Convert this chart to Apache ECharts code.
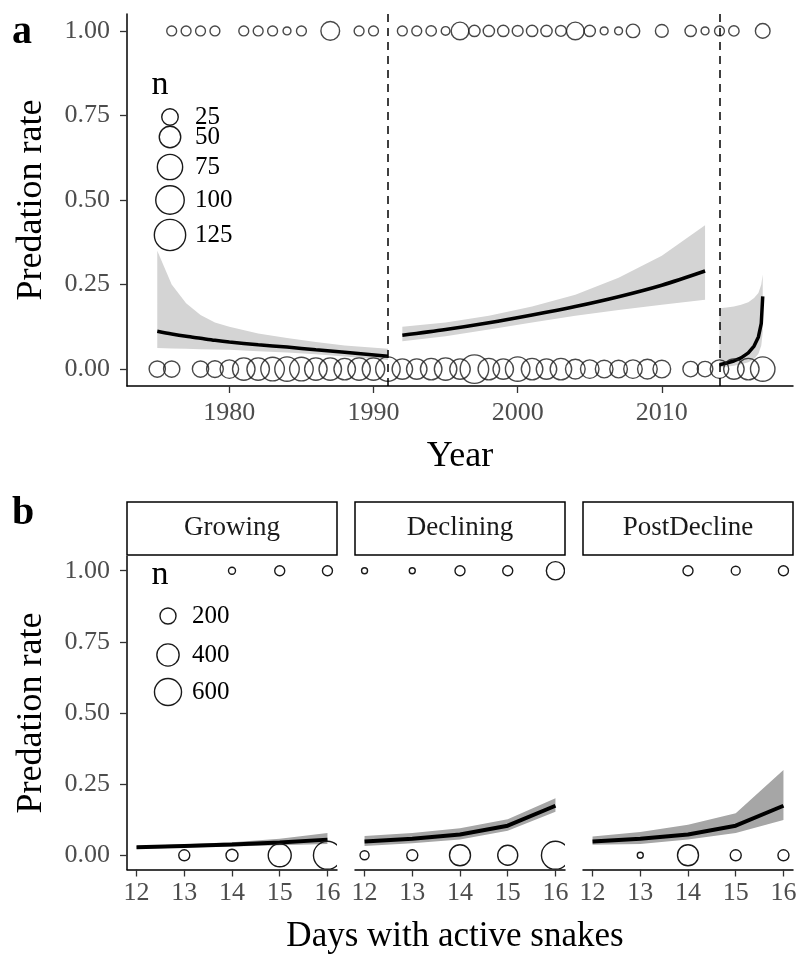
<!DOCTYPE html>
<html>
<head>
<meta charset="utf-8">
<script src="https://cdn.jsdelivr.net/npm/echarts@6/dist/echarts.min.js"></script>
<style>
html, body { margin: 0; padding: 0; background: #fff; }
#chart { width: 801px; height: 954px; }
</style>
</head>
<body>
<div id="chart"></div>
<script>
// ---- panel a : observations per year ----
var yearsOne = [1976, 1977, 1978, 1979, 1981, 1982, 1983, 1984, 1985, 1987, 1989, 1990,
                1992, 1993, 1994, 1995, 1996, 1997, 1998, 1999, 2000, 2001, 2002, 2003,
                2004, 2005, 2006, 2007, 2008, 2010, 2012, 2013, 2014, 2015, 2017];
var nOne = [5, 5, 5, 5, 5, 5, 5, 2, 5, 35, 5, 5,
            5, 5, 6, 3, 30, 8, 8, 8, 7, 8, 8, 7,
            30, 8, 2, 2, 14, 12, 8, 2, 5, 6, 18];
var yearsZero = [1975, 1976, 1978, 1979, 1980, 1981, 1982, 1983, 1984, 1985, 1986, 1987,
                 1988, 1989, 1990, 1991, 1992, 1993, 1994, 1995, 1996, 1997, 1998, 1999,
                 2000, 2001, 2002, 2003, 2004, 2005, 2006, 2007, 2008, 2009, 2010,
                 2012, 2013, 2014, 2015, 2016, 2017];
var nZero = [24, 24, 24, 26, 34, 56, 56, 63, 69, 63, 56, 56,
             50, 56, 56, 69, 44, 44, 50, 56, 44, 100, 50, 44,
             69, 50, 44, 50, 40, 34, 30, 30, 34, 40, 30,
             21, 21, 34, 44, 50, 69];
var breakYears = [1991, 2014];
var legendA = [25, 50, 75, 100, 125];
var yearTicks = [1980, 1990, 2000, 2010];
var rateTicks = [0, 0.25, 0.5, 0.75, 1];

// fitted curves with confidence bands, one per period
var fit1Years = [1975, 1976, 1977, 1978, 1979, 1980, 1982, 1984, 1986, 1988, 1991];
var fit1 = [0.112, 0.104, 0.097, 0.091, 0.085, 0.080, 0.072, 0.065, 0.057, 0.050, 0.038];
var fit1Hi = [0.35, 0.25, 0.195, 0.16, 0.138, 0.125, 0.105, 0.092, 0.08, 0.07, 0.06];
var fit1Lo = [0.062, 0.061, 0.060, 0.059, 0.058, 0.057, 0.053, 0.049, 0.044, 0.037, 0.027];

var fit2Years = [1992, 1995, 1998, 2001, 2004, 2007, 2010, 2013];
var fit2 = [0.10, 0.117, 0.137, 0.16, 0.185, 0.214, 0.248, 0.29];
var fit2Hi = [0.125, 0.138, 0.158, 0.185, 0.22, 0.27, 0.335, 0.425];
var fit2Lo = [0.082, 0.097, 0.117, 0.138, 0.158, 0.175, 0.19, 0.205];

var fit3Years = [2014, 2014.5, 2015, 2015.5, 2016, 2016.4, 2016.7, 2016.9, 2017];
var fit3 = [0.013, 0.018, 0.024, 0.033, 0.048, 0.068, 0.095, 0.135, 0.215];
var fit3Hi = [0.18, 0.182, 0.185, 0.19, 0.198, 0.21, 0.225, 0.25, 0.28];
var fit3Lo = [0.005, 0.007, 0.01, 0.014, 0.02, 0.03, 0.045, 0.07, 0.11];

// ---- panel b : days with active snakes, by phase ----
var phases = ['Growing', 'Declining', 'PostDecline'];
var days = [12, 13, 14, 15, 16];
var growZeroDays = [13, 14, 15, 16], growZeroN = [89, 107, 428, 645];
var growOneDays = [14, 15, 16], growOneN = [32, 72, 72];
var declZeroDays = [12, 13, 14, 15, 16], declZeroN = [57, 89, 354, 320, 645];
var declOneDays = [12, 13, 14, 15, 16], declOneN = [22, 22, 72, 72, 262];
var postZeroDays = [13, 14, 15, 16], postZeroN = [22, 354, 89, 89];
var postOneDays = [14, 15, 16], postOneN = [72, 55, 72];

var growFit = [0.028, 0.033, 0.038, 0.045, 0.055];
var growHi = [0.033, 0.039, 0.046, 0.058, 0.078];
var growLo = [0.022, 0.027, 0.031, 0.035, 0.040];
var declFit = [0.048, 0.058, 0.073, 0.104, 0.174];
var declHi = [0.068, 0.078, 0.095, 0.127, 0.20];
var declLo = [0.033, 0.042, 0.055, 0.086, 0.153];
var postFit = [0.048, 0.058, 0.073, 0.104, 0.174];
var postHi = [0.066, 0.082, 0.107, 0.148, 0.30];
var postLo = [0.037, 0.040, 0.055, 0.078, 0.124];
var legendB = [200, 400, 600];

var FONT = "'Liberation Serif', 'Times New Roman', serif";

function sizeA(n) { return 4.5 + 2.4 * Math.sqrt(n); }
function sizeB(n) { return 1 + 1.063 * Math.sqrt(n); }

function pts(xs, ys) { return xs.map(function (x, i) { return [x, ys[i]]; }); }
function flat(xs, y, ns) { return xs.map(function (x, i) { return [x, y, ns[i]]; }); }

function ribbon(xs, lo, hi, color, idx) {
    var rows = xs.map(function (x, i) { return [x, lo[i], hi[i]]; });
    return {
        type: 'custom', xAxisIndex: idx, yAxisIndex: idx, silent: true, clip: true, z: 1,
        data: rows,
        encode: { x: 0, y: [1, 2] },
        renderItem: function (params, api) {
            if (params.dataIndex !== 0) return;
            var top = rows.map(function (r) { return api.coord([r[0], r[2]]); });
            var bot = rows.map(function (r) { return api.coord([r[0], r[1]]); }).reverse();
            return { type: 'polygon', shape: { points: top.concat(bot) }, style: { fill: color } };
        }
    };
}

function fitLine(xs, ys, idx, w, smooth) {
    return {
        type: 'line', xAxisIndex: idx, yAxisIndex: idx, data: pts(xs, ys),
        symbol: 'none', silent: true, z: 3, smooth: smooth || false,
        lineStyle: { color: '#000', width: w }
    };
}

function dots(data, idx, sizeFn) {
    return {
        type: 'scatter', xAxisIndex: idx, yAxisIndex: idx, data: data, z: 4,
        symbol: 'circle', silent: true,
        symbolSize: function (v) { return sizeFn(v[2]); },
        itemStyle: { color: 'rgba(0,0,0,0)', borderColor: '#1a1a1a', borderWidth: 1.4 }
    };
}

// open circles drawn as custom shapes so that they are clipped at the facet edge
function clippedDots(data, idx, sizeFn) {
    return {
        type: 'custom', xAxisIndex: idx, yAxisIndex: idx, data: data, clip: true, z: 4,
        silent: true,
        encode: { x: 0, y: 1 },
        renderItem: function (params, api) {
            var c = api.coord([api.value(0), api.value(1)]);
            return {
                type: 'circle',
                shape: { cx: c[0], cy: c[1], r: sizeFn(api.value(2)) / 2 },
                style: { fill: 'none', stroke: '#1a1a1a', lineWidth: 1.4 }
            };
        }
    };
}

var labelStyle = { color: '#4d4d4d', fontFamily: FONT, fontSize: 26 };

function xAxisFor(idx, min, max, ticks, margin) {
    return {
        gridIndex: idx, type: 'value', min: min, max: max,
        splitLine: { show: false },
        axisLine: { onZero: false, lineStyle: { color: '#000', width: 1.5 } },
        axisTick: { length: 7, lineStyle: { color: '#333', width: 1.3 }, customValues: ticks },
        axisLabel: Object.assign({
            customValues: ticks, margin: margin,
            formatter: function (v) { return String(v); }
        }, labelStyle)
    };
}
function yAxisFor(idx, show) {
    return {
        gridIndex: idx, type: 'value', min: -0.05, max: 1.05, show: show,
        splitLine: { show: false },
        axisLine: { show: true, onZero: false, lineStyle: { color: '#000', width: 1.5 } },
        axisTick: { length: 7, lineStyle: { color: '#333', width: 1.3 }, customValues: rateTicks },
        axisLabel: Object.assign({
            customValues: rateTicks, margin: 17,
            formatter: function (v) { return v.toFixed(2); }
        }, labelStyle)
    };
}

var chart = echarts.init(document.getElementById('chart'));

var facetLeft = [127, 355, 583];
var gB = { top: 556.5, height: 313, width: 210 };

function label(text, x, y, font, extra) {
    var el = {
        type: 'text', x: x, y: y,
        style: { text: text, font: font, fill: '#000', align: 'center', verticalAlign: 'middle', textAlign: 'center', textVerticalAlign: 'middle' }
    };
    return Object.assign(el, extra || {});
}

var graphics = [
    label('a', 22, 33, 'bold 40px ' + FONT),
    label('b', 23, 514, 'bold 40px ' + FONT),
    label('Predation rate', 32, 200, '36px ' + FONT, { rotation: Math.PI / 2 }),
    label('Predation rate', 32, 713, '36px ' + FONT, { rotation: Math.PI / 2 }),
    label('Year', 460, 457, '36px ' + FONT),
    label('Days with active snakes', 455, 937, '35px ' + FONT),
    label('n', 160, 85, '34px ' + FONT),
    label('n', 160, 575, '34px ' + FONT)
];
var legAY = [117, 137, 167, 200, 235];
legendA.forEach(function (n, i) {
    graphics.push({ type: 'circle', shape: { cx: 170, cy: legAY[i], r: sizeA(n) / 2 }, style: { fill: 'none', stroke: '#1a1a1a', lineWidth: 1.4 } });
    graphics.push({ type: 'text', x: 195, y: legAY[i], style: { text: String(n), font: '25px ' + FONT, fill: '#000', align: 'left', verticalAlign: 'middle', textAlign: 'left', textVerticalAlign: 'middle' } });
});
var legBY = [616, 655, 692];
legendB.forEach(function (n, i) {
    graphics.push({ type: 'circle', shape: { cx: 168, cy: legBY[i], r: sizeB(n) / 2 }, style: { fill: 'none', stroke: '#1a1a1a', lineWidth: 1.4 } });
    graphics.push({ type: 'text', x: 192, y: legBY[i], style: { text: String(n), font: '25px ' + FONT, fill: '#000', align: 'left', verticalAlign: 'middle', textAlign: 'left', textVerticalAlign: 'middle' } });
});
phases.forEach(function (p, i) {
    graphics.push({ type: 'rect', shape: { x: facetLeft[i], y: 502, width: 210, height: 53 }, style: { fill: '#fff', stroke: '#000', lineWidth: 1.5 } });
    graphics.push({ type: 'text', x: facetLeft[i] + 105, y: 528, style: { text: p, font: '27px ' + FONT, fill: '#1a1a1a', align: 'center', verticalAlign: 'middle', textAlign: 'center', textVerticalAlign: 'middle' } });
});

var bandA = '#d4d4d4', bandB = '#a6a6a6';

var series = [
    ribbon(fit1Years, fit1Lo, fit1Hi, bandA, 0),
    ribbon(fit2Years, fit2Lo, fit2Hi, bandA, 0),
    ribbon(fit3Years, fit3Lo, fit3Hi, bandA, 0),
    fitLine(fit1Years, fit1, 0, 3.5, 0.3),
    fitLine(fit2Years, fit2, 0, 3.5, 0.3),
    fitLine(fit3Years, fit3, 0, 3.5),
    {
        type: 'line', xAxisIndex: 0, yAxisIndex: 0, data: [], silent: true,
        markLine: {
            silent: true, symbol: ['none', 'none'], label: { show: false },
            lineStyle: { color: '#000', type: [8, 6], width: 1.5 },
            data: breakYears.map(function (y) { return { xAxis: y }; })
        }
    },
    dots(flat(yearsOne, 1, nOne), 0, sizeA),
    dots(flat(yearsZero, 0, nZero), 0, sizeA),

    ribbon(days, growLo, growHi, bandB, 1),
    fitLine(days, growFit, 1, 4),
    clippedDots(flat(growZeroDays, 0, growZeroN), 1, sizeB),
    clippedDots(flat(growOneDays, 1, growOneN), 1, sizeB),

    ribbon(days, declLo, declHi, bandB, 2),
    fitLine(days, declFit, 2, 4),
    clippedDots(flat(declZeroDays, 0, declZeroN), 2, sizeB),
    clippedDots(flat(declOneDays, 1, declOneN), 2, sizeB),

    ribbon(days, postLo, postHi, bandB, 3),
    fitLine(days, postFit, 3, 4),
    clippedDots(flat(postZeroDays, 0, postZeroN), 3, sizeB),
    clippedDots(flat(postOneDays, 1, postOneN), 3, sizeB)
];

chart.setOption({
    animation: false,
    backgroundColor: '#fff',
    grid: [
        { left: 127, top: 14, width: 666, height: 372 },
        { left: facetLeft[0], top: gB.top, width: gB.width, height: gB.height },
        { left: facetLeft[1], top: gB.top, width: gB.width, height: gB.height },
        { left: facetLeft[2], top: gB.top, width: gB.width, height: gB.height }
    ],
    xAxis: [
        xAxisFor(0, 1972.9, 2019.1, yearTicks, 14),
        xAxisFor(1, 11.8, 16.2, days, 11),
        xAxisFor(2, 11.8, 16.2, days, 11),
        xAxisFor(3, 11.8, 16.2, days, 11)
    ],
    yAxis: [yAxisFor(0, true), yAxisFor(1, true), yAxisFor(2, false), yAxisFor(3, false)],
    graphic: graphics,
    series: series
});
</script>
</body>
</html>
